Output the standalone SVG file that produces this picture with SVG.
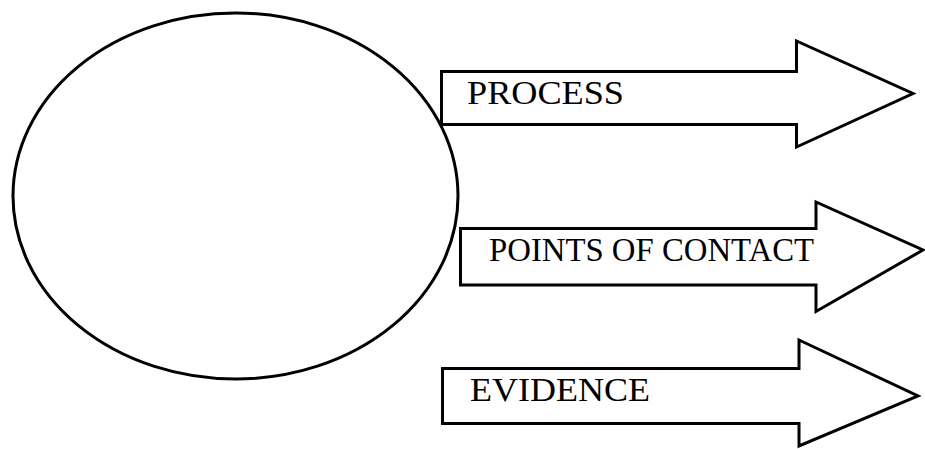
<svg xmlns="http://www.w3.org/2000/svg" width="925" height="449" viewBox="0 0 925 449">
<style>
.shape{fill:#fff;stroke:#000;stroke-width:3;stroke-linejoin:miter}
.lbl{font-family:"Liberation Serif","Times New Roman",serif;font-size:33px;fill:#000}
</style>
<rect width="925" height="449" fill="#fff"/>
<g id="circle">
<ellipse class="shape" cx="235.5" cy="196" rx="222.5" ry="183"/>
</g>
<g id="arrow-process">
<polygon class="shape" points="441.5,71.5 796.5,71.5 796.5,41 913,93.5 796.5,147 796.5,124.5 441.5,124.5"/>
<text class="lbl" x="467" y="104" textLength="157" lengthAdjust="spacingAndGlyphs">PROCESS</text>
</g>
<g id="arrow-contact">
<polygon class="shape" points="460.5,228.5 816,228.5 816,202 923,250 816,311.5 816,285 460.5,285"/>
<text class="lbl" x="489" y="261" textLength="325" lengthAdjust="spacingAndGlyphs">POINTS OF CONTACT</text>
</g>
<g id="arrow-evidence">
<polygon class="shape" points="442.5,368.5 799,368.5 799,340 918,396 799,446 799,423.5 442.5,423.5"/>
<text class="lbl" x="470" y="401" textLength="180" lengthAdjust="spacingAndGlyphs">EVIDENCE</text>
</g>
<g id="connectors"/>
</svg>
